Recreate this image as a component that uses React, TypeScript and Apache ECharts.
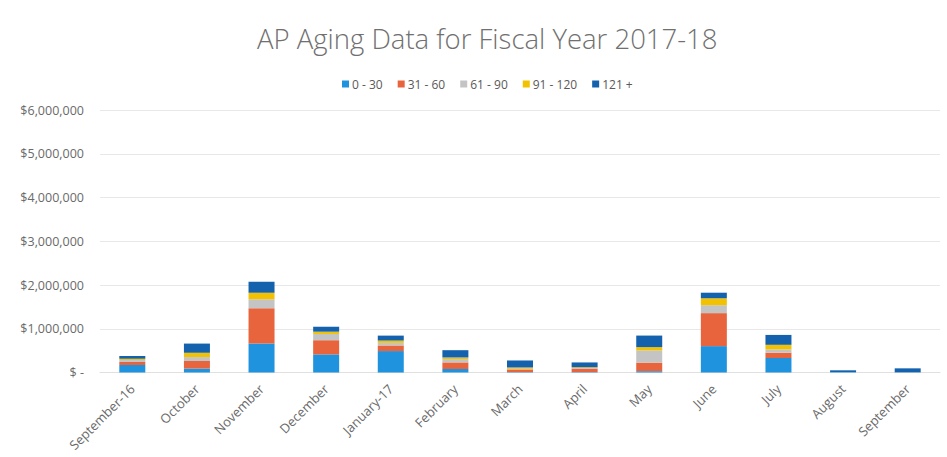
import React, { useEffect, useRef } from "react";
import * as echarts from "echarts";

const categories = [
  "September-16", "October", "November", "December", "January-17", "February",
  "March", "April", "May", "June", "July", "August", "September",
];
const seriesNames = ["0 - 30", "31 - 60", "61 - 90", "91 - 120", "121 +"];
const s0to30 = [172000, 90000, 663000, 414000, 490000, 80000, 10000, 10000, 30000, 603000, 332000, 10000, 5000];
const s31to60 = [68000, 173000, 807000, 324000, 128000, 151000, 60000, 80000, 196000, 754000, 121000, 0, 0];
const s61to90 = [45000, 90000, 204000, 143000, 60000, 75000, 15000, 15000, 279000, 181000, 75000, 0, 0];
const s91to120 = [32000, 98000, 151000, 52000, 52000, 38000, 30000, 15000, 75000, 158000, 105000, 0, 0];
const s121plus = [59000, 210000, 249000, 113000, 113000, 166000, 160000, 110000, 264000, 128000, 226000, 40000, 90000];
const colors = ["#1f93de", "#e8643c", "#c4c4c4", "#f2c200", "#1462ae"];

const fmt = (v: number) =>
  v === 0 ? "$ -" : "$" + v.toLocaleString("en-US");

export default function App() {
  const ref = useRef<HTMLDivElement>(null);
  useEffect(() => {
    document.body.style.margin = "0";
    const chart = echarts.init(ref.current!, null, { renderer: "svg" });
    const values = [s0to30, s31to60, s61to90, s91to120, s121plus];
    chart.setOption({
      animation: false,
      backgroundColor: "#ffffff",
      color: colors,
      textStyle: { fontFamily: "Open Sans" },
      title: {
        text: "AP Aging Data for Fiscal Year 2017-18",
        left: 252,
        top: 19,
        textStyle: {
          fontFamily: "Open Sans",
          fontWeight: 300,
          fontSize: 27.5,
          color: "#707070",
        },
      },
      legend: {
        left: 337,
        top: 73,
        icon: "rect",
        itemWidth: 7,
        itemHeight: 7,
        itemGap: 15,
        textStyle: { fontSize: 12, color: "#595959", padding: [0, 0, 0, -2] },
        data: seriesNames,
      },
      grid: { left: 100, right: 7, top: 110, bottom: 84.5 },
      xAxis: {
        type: "category",
        data: categories,
        axisLine: { lineStyle: { color: "#e0e0e0" } },
        axisTick: { show: false },
        axisLabel: {
          rotate: 45,
          color: "#6a6a6a",
          fontSize: 13,
          interval: 0,
          margin: 14,
        },
      },
      yAxis: {
        type: "value",
        min: 0,
        max: 6000000,
        interval: 1000000,
        axisLine: { show: false },
        axisTick: { show: false },
        splitLine: { lineStyle: { color: "#e8e8e8" } },
        axisLabel: {
          formatter: fmt,
          color: "#6a6a6a",
          fontSize: 12.5,
          margin: 16,
        },
      },
      series: seriesNames.map((name, i) => ({
        name,
        type: "bar",
        stack: "total",
        barWidth: 26,
        data: values[i],
        itemStyle: { color: colors[i] },
      })),
    });
    return () => chart.dispose();
  }, []);
  return <div ref={ref} style={{ width: 947, height: 457 }} />;
}
